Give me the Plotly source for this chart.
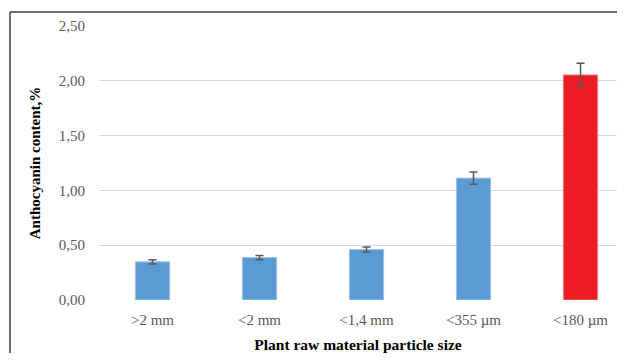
import plotly.graph_objects as go

categories = [">2 mm", "<2 mm", "<1,4 mm", "<355 µm", "<180 µm"]
values = [0.348, 0.387, 0.46, 1.112, 2.053]
errors = [0.02, 0.02, 0.023, 0.057, 0.106]
colors = ["#5B9BD5", "#5B9BD5", "#5B9BD5", "#5B9BD5", "#ED1C24"]
edge_colors = ["#9DC3E6", "#9DC3E6", "#9DC3E6", "#9DC3E6", "#F4797D"]
ytick_vals = [0, 0.5, 1.0, 1.5, 2.0, 2.5]
ytick_text = ["0,00", "0,50", "1,00", "1,50", "2,00", "2,50"]

fig = go.Figure()
fig.add_trace(go.Bar(
    x=categories, y=values,
    marker=dict(color=colors, line=dict(color=edge_colors, width=1)),
    width=0.32,
    error_y=dict(type="data", array=errors, visible=True,
                 color="#595959", thickness=1.5, width=4),
))

serif = "Liberation Serif, Times New Roman, serif"
fig.update_layout(
    width=609, height=345,
    margin=dict(l=91, r=0, t=18, b=51),
    plot_bgcolor="white", paper_bgcolor="white",
    showlegend=False,
    font=dict(family=serif),
    xaxis=dict(
        range=[-0.5, 4.341],
        showgrid=False, showline=False, zeroline=False,
        tickfont=dict(family=serif, size=15, color="#595959"),
        ticklabelstandoff=9,
        title=dict(text="<b>Plant raw material particle size</b>",
                   font=dict(family=serif, size=15.5, color="black"), standoff=14),
        ticks="",
    ),
    yaxis=dict(
        range=[0, 2.5],
        tickvals=ytick_vals, ticktext=ytick_text,
        showgrid=True, gridcolor="#D9D9D9", gridwidth=1,
        zeroline=False, showline=False,
        tickfont=dict(family=serif, size=15, color="#595959"),
        ticklabelstandoff=13,
        title=dict(text="<b>Anthocyanin content,%</b>",
                   font=dict(family=serif, size=15, color="black"), standoff=14),
    ),
)

fig.add_shape(type="line", xref="paper", yref="paper",
              x0=-0.1718, y0=-0.4, x1=-0.1718, y1=1.0508,
              line=dict(color="#404040", width=1.5), layer="below")
fig.add_shape(type="line", xref="paper", yref="paper",
              x0=-0.1718, y0=1.0508, x1=1.2, y1=1.0508,
              line=dict(color="#404040", width=1.5), layer="below")

fig.write_html("out.html")
